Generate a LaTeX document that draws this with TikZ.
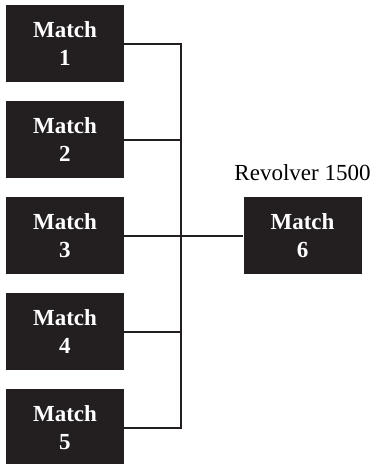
\documentclass[tikz,border=0pt]{standalone}
\usepackage{fontspec}
\setmainfont{Liberation Serif}
\usetikzlibrary{positioning}
\definecolor{matchfill}{HTML}{231F20}

\begin{document}
\begin{tikzpicture}[x=1pt,y=-1pt,
    matchbox/.style={fill=matchfill,text=white,minimum width=118pt,minimum height=77pt,
      inner sep=0pt,align=center,font=\fontsize{23}{28}\selectfont\bfseries},
    bracket/.style={line width=2pt,draw=matchfill}]
\useasboundingbox (0,0) rectangle (378,464);

\node [matchbox] (m1) at (65,43.5) {Match\\1};
\node [matchbox] (m2) at (65,139.5) {Match\\2};
\node [matchbox] (m3) at (65,235.5) {Match\\3};
\node [matchbox] (m4) at (65,331.5) {Match\\4};
\node [matchbox] (m5) at (65,427.5) {Match\\5};
\node [matchbox] (m6) at (302.5,235.5) {Match\\6};
\node [anchor=base,font=\fontsize{23}{28}\selectfont] (rev) at ([yshift=16pt]m6.north) {Revolver 1500};

\coordinate (bartop) at (181,43.5);
\coordinate (barbot) at (181,427.5);

\draw [bracket] (m1.east) -- (bartop) -- (barbot) -- (m5.east);
\draw [bracket] (m2.east) -- (m2.east -| bartop);
\draw [bracket] (m3.east) -- (m6.west);
\draw [bracket] (m4.east) -- (m4.east -| bartop);
\end{tikzpicture}
\end{document}
